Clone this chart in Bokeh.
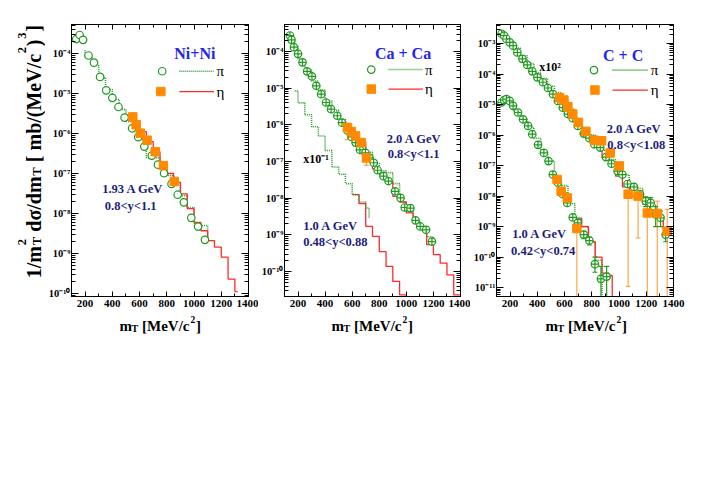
import math
from bokeh.plotting import figure
from bokeh.models import (Range1d, FixedTicker, CustomJSTickFormatter, LinearAxis,
                          LogAxis, Label, Spacer)
from bokeh.layouts import row, column
from bokeh.embed import file_html
from bokeh.resources import INLINE

# ------------------------------------------------------------------ data
x_ticks = [200, 400, 600, 800, 1000, 1200, 1400]
x_minor_ticks = [100, 300, 500, 700, 900, 1100, 1300]

# ---- Ni+Ni, 1.93 A GeV, 0.8<y<1.1
ni_pi_mt = [135, 160, 185, 225, 265, 310, 355, 400, 445, 490, 545, 590, 635, 690,
            735, 780, 835, 880, 925, 980, 1030, 1080]
ni_pi_val = [2.3e-4, 2.9e-4, 2.2e-4, 8.9e-5, 5.9e-5, 2.6e-5, 1.2e-5, 7.8e-6, 4.6e-6,
             2.5e-6, 1.35e-6, 8.1e-7, 4.7e-7, 2.8e-7, 1.66e-7, 1.02e-7, 5.5e-8, 2.95e-8,
             1.9e-8, 7.8e-9, 4.7e-9, 2.2e-9]
ni_eta_mt = [550, 575, 605, 655, 715, 775, 855]
ni_eta_val = [2.6e-6, 1.66e-6, 1.02e-6, 6.8e-7, 3.5e-7, 1.58e-7, 6.3e-8]
ni_pi_model_edges = [200, 250, 300, 350, 400, 450, 500, 550, 600, 650, 700, 750, 800,
                     850, 900, 950, 1000, 1050, 1100]
ni_pi_model_val = [7.9e-5, 5.0e-5, 2.5e-5, 1.26e-5, 7.1e-6, 4.0e-6, 2.0e-6, 1.12e-6,
                   7.1e-7, 2.5e-7, 2.5e-7, 1.58e-7, 8.9e-8, 5.6e-8, 2.8e-8, 1.41e-8,
                   5.6e-9, 5.0e-9]
ni_pi_model_start, ni_pi_model_end = 1.2e-4, 2.2e-9
ni_eta_model_edges = [600, 650, 700, 750, 800, 850, 900, 950, 1000, 1050, 1100, 1150,
                      1200, 1250, 1300, 1320]
ni_eta_model_val = [1.12e-6, 6.3e-7, 3.5e-7, 1.78e-7, 1.0e-7, 6.0e-8, 3.1e-8, 1.32e-8,
                    6.0e-9, 3.7e-9, 2.1e-9, 1.45e-9, 8.1e-10, 2.3e-10, 1.12e-10]

# ---- Ca+Ca, 2.0 A GeV (0.8<y<1.1) and 1.0 A GeV x10^-1 (0.48<y<0.88)
ca_pi_mt = [140, 152, 170, 200, 233, 267, 303, 335, 371, 407, 444, 490, 525, 565, 596,
            625, 657, 698, 728, 759, 788, 831, 868, 916, 957, 988, 1030, 1068, 1102,
            1146, 1189]
ca_pi_val = [2.75e-4, 2.1e-4, 1.32e-4, 8.7e-5, 5.1e-5, 2.9e-5, 2.1e-5, 1.17e-5, 6.9e-6,
             4.1e-6, 2.7e-6, 1.78e-6, 1.15e-6, 7.1e-7, 4.7e-7, 3.3e-7, 2.1e-7, 1.74e-7,
             1.26e-7, 9.3e-8, 5.8e-8, 4.0e-8, 2.95e-8, 1.55e-8, 1.02e-8, 5.6e-9, 5.4e-9,
             2.5e-9, 1.7e-9, 1.38e-9, 6.6e-10]
ca_eta_mt = [565, 594, 625, 666, 705]
ca_eta_val = [8.5e-7, 6.6e-7, 5.0e-7, 3.3e-7, 1.26e-7]
ca_eta_lo = [4.0e-7, 5.0e-7, 3.9e-7, 2.6e-7, 7.9e-8]
ca_eta_hi = [1.1e-6, 8.5e-7, 6.3e-7, 4.2e-7, 1.78e-7]
ca_pi_model_edges = [150, 200, 250, 300, 350, 400, 450, 500, 550, 600, 650, 700, 750,
                     800, 850, 900, 950, 1000, 1050, 1100, 1150, 1200]
ca_pi_model_val = [1.41e-4, 6.3e-5, 3.2e-5, 1.58e-5, 8.9e-6, 4.5e-6, 2.5e-6, 1.41e-6,
                   7.1e-7, 4.0e-7, 2.8e-7, 1.78e-7, 8.9e-8, 5.6e-8, 5.0e-8, 2.5e-8,
                   7.9e-9, 4.5e-9, 2.5e-9, 1.41e-9, 8.9e-10]
ca_pi_model_start, ca_pi_model_end = 2.5e-4, 5.0e-10
ca_eta_model_edges = [550, 600, 650, 700, 750, 800, 850, 900, 950, 1000, 1050, 1100,
                      1150, 1200, 1250, 1300, 1350, 1400]
ca_eta_model_val = [7.1e-7, 5.0e-7, 3.5e-7, 1.26e-7, 6.3e-8, 4.5e-8, 2.8e-8, 1.12e-8,
                    7.9e-9, 4.0e-9, 2.2e-9, 1.41e-9, 5.4e-10, 2.9e-10, 1.7e-10, 8.1e-11,
                    2.3e-11]
ca1_pi_model_edges = [175, 200, 250, 300, 350, 400, 450, 500, 550, 600, 650, 700, 725]
ca1_pi_model_val = [8.5e-6, 4.0e-6, 1.9e-6, 8.9e-7, 5.0e-7, 2.0e-7, 7.1e-8, 4.5e-8,
                    2.5e-8, 1.26e-8, 7.9e-9, 5.4e-9]
ca1_pi_model_end = 2.9e-9
ca1_eta_model_edges = [600, 650, 700, 750, 800, 850, 900, 950, 1000]
ca1_eta_model_val = [1.26e-8, 7.1e-9, 1.7e-9, 9.1e-10, 3.5e-10, 1.38e-10, 5.4e-11, 2.3e-11]
ca1_eta_model_end = 1e-13

# ---- C+C, 2.0 A GeV x10^2 (0.8<y<1.08) and 1.0 A GeV (0.42<y<0.74)
c2_pi_mt = [137, 156, 173, 197, 222, 253, 290, 326, 363, 400, 441, 478, 515, 551, 587,
            624, 660, 697, 741, 782, 818, 862, 904, 945, 989, 1025, 1062, 1110, 1154,
            1196, 1232, 1269, 1305, 1342]
c2_pi_val = [2.1e-3, 1.82e-3, 1.41e-3, 1.1e-3, 8.5e-4, 5.1e-4, 3.16e-4, 2.0e-4, 1.23e-4,
             7.8e-5, 5.4e-5, 3.5e-5, 2.2e-5, 1.32e-5, 7.9e-6, 4.9e-6, 3.6e-6, 2.0e-6,
             1.12e-6, 7.9e-7, 5.0e-7, 3.9e-7, 1.9e-7, 1.15e-7, 6.6e-8, 5.1e-8, 2.5e-8,
             2.0e-8, 1.15e-8, 6.9e-9, 6.0e-9, 2.5e-9, 1.95e-9, 5.5e-10]
c2_pi_err_mt = [1154, 1196, 1232, 1269, 1305, 1342]
c2_pi_err_lo = [8.0e-9, 4.5e-9, 3.5e-9, 1.0e-9, 1.0e-9, 3.2e-10]
c2_pi_err_hi = [1.5e-8, 9.5e-9, 9.0e-9, 4.5e-9, 3.2e-9, 8.9e-10]
c2_eta_mt = [562, 595, 624, 660, 701, 757, 818, 872, 935, 1001, 1067, 1140, 1208, 1281, 1354]
c2_eta_val = [1.7e-5, 1.41e-5, 8.5e-6, 4.9e-6, 2.6e-6, 1.32e-6, 6.8e-7, 6.5e-7, 2.6e-7,
              9.8e-8, 1.15e-8, 1.0e-8, 2.8e-9, 2.7e-9, 7.1e-10]
c2_eta_lo = [1.4e-5, 1.15e-5, 7.0e-6, 4.0e-6, 2.1e-6, 1.05e-6, 5.4e-7, 5.0e-7, 2.0e-7,
             7.4e-8, 1.1e-11, 4.3e-10, 1e-13, 1e-13, 1e-13]
c2_eta_hi = [2.0e-5, 1.7e-5, 1.0e-5, 5.9e-6, 3.2e-6, 1.6e-6, 8.3e-7, 8.0e-7, 3.2e-7,
             1.25e-7, 3.2e-8, 1.8e-8, 6.9e-9, 6.9e-9, 3.7e-9]
c2_pi_model_edges = [125, 175, 225, 275, 325, 375, 425, 475, 525, 575, 625, 675, 725,
                     775, 825, 875, 925, 975, 1025, 1075, 1125, 1175, 1225, 1275, 1325]
c2_pi_model_val = [2.0e-3, 1.26e-3, 7.1e-4, 4.0e-4, 2.2e-4, 1.12e-4, 7.1e-5, 4.0e-5,
                   2.5e-5, 1.41e-5, 7.1e-6, 3.5e-6, 1.78e-6, 1.0e-6, 5.0e-7, 3.2e-7,
                   1.58e-7, 8.9e-8, 5.0e-8, 2.5e-8, 1.78e-8, 7.9e-9, 5.0e-9, 2.5e-9]
c2_pi_model_end = 1.26e-9
c2_eta_model_edges = [575, 625, 675, 725, 775, 825, 875, 925, 975, 1025, 1075, 1125,
                      1175, 1225, 1275, 1325, 1375]
c2_eta_model_val = [1.26e-5, 5.0e-6, 2.5e-6, 1.41e-6, 7.1e-7, 4.0e-7, 1.78e-7, 1.12e-7,
                    4.5e-8, 2.0e-8, 1.0e-8, 1.0e-8, 5.4e-9, 3.5e-9, 2.0e-9, 7.9e-10]

c1_pi_mt = [137, 156, 173, 197, 222, 258, 295, 332, 363, 405, 448, 482, 514, 551, 587,
            619, 660, 697, 741, 782, 823, 867, 909]
c1_pi_val = [1.17e-5, 1.41e-5, 1.51e-5, 1.32e-5, 9.1e-6, 5.5e-6, 3.3e-6, 2.0e-6, 1.07e-6,
             4.8e-7, 2.6e-7, 1.41e-7, 5.1e-8, 2.75e-8, 1.15e-8, 6.0e-9, 2.0e-9, 1.32e-9,
             5.5e-10, 3.5e-10, 5.9e-11, 1.95e-11, 2.3e-11]
c1_pi_err_mt = [741, 782, 823, 867, 909]
c1_pi_err_lo = [4.0e-10, 2.5e-10, 3.2e-11, 1e-13, 1e-13]
c1_pi_err_hi = [7.0e-10, 4.5e-10, 1.0e-10, 5.0e-11, 5.0e-11]
c1_eta_mt = [545, 575, 620, 690]
c1_eta_val = [3.5e-8, 1.45e-8, 8.7e-9, 8.7e-10]
c1_eta_lo = [2.8e-8, 1.1e-8, 6.5e-9, 1e-13]
c1_eta_hi = [4.4e-8, 1.9e-8, 1.15e-8, 1.5e-9]
c1_pi_model_edges = [125, 175, 225, 275, 325, 375, 425, 475, 525, 575, 625, 675, 725,
                     775, 825, 875]
c1_pi_model_val = [1.41e-5, 1.12e-5, 6.3e-6, 3.5e-6, 1.78e-6, 7.9e-7, 2.8e-7, 1.41e-7,
                   4.0e-8, 2.2e-8, 5.6e-9, 2.0e-9, 1.0e-9, 3.2e-10, 7.9e-11]
c1_pi_model_end = 1e-13
c1_eta_model_edges = [675, 725, 775, 825, 875, 925, 950]
c1_eta_model_val = [1.78e-9, 1.0e-9, 3.2e-10, 1.0e-10, 3.0e-11, 2.5e-11]
c1_eta_model_end = 1e-13

# ------------------------------------------------------------------ style
FONT = "Liberation Serif"
GREEN_M = "#1f9a1f"
GREEN_L = "#2f9f2f"
RED = "#ff2b2b"
ORANGE = "#ff8a00"
ORANGE_ERR = "#ffa850"
BLUE = "#2424ee"
NAVY = "#1c1c7e"
TOP = 24          # border above frames
FH = 272          # frame height
BOT = 16          # border below frames (tick labels)
PH = TOP + FH + BOT
XH = 28           # height of the strip holding the x-axis titles
WY = 45           # width of the strip holding the y-axis title

PANELS = [
    dict(fw=179, left=24, right=10, ylo=-10.075, yhi=-3.275, dec=list(range(-10, -3))),
    dict(fw=179, left=23, right=10, ylo=-10.68, yhi=-3.26, dec=list(range(-10, -3))),
    dict(fw=178, left=25, right=14, ylo=-11.29, yhi=-2.375, dec=list(range(-11, -2))),
]

SUP_JS = """
const sup = {"-": "\u207b", "0": "\u2070", "1": "\u00b9", "2": "\u00b2", "3": "\u00b3",
             "4": "\u2074", "5": "\u2075", "6": "\u2076", "7": "\u2077", "8": "\u2078",
             "9": "\u2079"};
const e = Math.round(Math.log10(tick));
let s = "";
for (const c of String(e)) { s += sup[c]; }
return "10" + s;
"""


def style_axis(ax, major_in, minor_in, labels=True, size="10.5px"):
    ax.axis_line_color = "black"
    ax.axis_line_width = 1
    ax.major_tick_in = major_in
    ax.major_tick_out = 0
    ax.minor_tick_in = minor_in
    ax.minor_tick_out = 0
    ax.major_tick_line_color = "black"
    ax.minor_tick_line_color = "black"
    ax.major_label_text_font = FONT
    ax.major_label_text_font_style = "bold"
    ax.major_label_text_font_size = size
    ax.major_label_text_color = "black"
    ax.major_label_standoff = 1 if labels else 0
    if not labels:
        ax.formatter = CustomJSTickFormatter(code="return '';")


def make_panel(cfg):
    p = figure(width=cfg["left"] + cfg["fw"] + cfg["right"], height=PH,
               x_range=Range1d(100, 1400),
               y_range=Range1d(10 ** cfg["ylo"], 10 ** cfg["yhi"]),
               y_axis_type="log", output_backend="svg", toolbar_location=None,
               min_border_left=cfg["left"], min_border_right=cfg["right"],
               min_border_top=TOP, min_border_bottom=BOT)
    p.grid.visible = False
    p.outline_line_color = "black"
    p.outline_line_width = 1
    p.background_fill_color = "white"
    p.border_fill_color = "white"
    lo_e = math.floor(cfg["ylo"])
    hi_e = math.ceil(cfg["yhi"])
    minors = [k * 10.0 ** e for e in range(lo_e, hi_e) for k in range(2, 10)]
    xt = FixedTicker(ticks=x_ticks, minor_ticks=x_minor_ticks)
    yt = FixedTicker(ticks=[10.0 ** e for e in cfg["dec"]], minor_ticks=minors)
    p.xaxis.ticker = xt
    p.yaxis.ticker = yt
    for ax in p.xaxis:
        style_axis(ax, 5, 3, size="11px")
        ax.major_label_standoff = 3
    for ax in p.yaxis:
        style_axis(ax, 7, 4)
        ax.formatter = CustomJSTickFormatter(code=SUP_JS)
    top = LinearAxis(ticker=xt)
    style_axis(top, 5, 3, labels=False)
    right = LogAxis(ticker=yt)
    style_axis(right, 7, 4, labels=False)
    p.add_layout(top, "above")
    p.add_layout(right, "right")
    return p


def strip(width, height):
    s = figure(width=width, height=height, x_range=Range1d(0, width),
               y_range=Range1d(0, height), output_backend="svg", toolbar_location=None,
               min_border_left=0, min_border_right=0, min_border_top=0,
               min_border_bottom=0, x_axis_location=None, y_axis_location=None)
    s.outline_line_color = None
    s.grid.visible = False
    s.background_fill_color = "white"
    s.border_fill_color = "white"
    return s


def text(p, x, y, t, size, color="black", style="bold", baseline="alphabetic",
         angle=0, xo=0, yo=0, align="left"):
    p.add_layout(Label(x=x, y=y, text=t, text_font=FONT, text_font_size=f"{size}px",
                       text_font_style=style, text_color=color, text_align=align,
                       text_baseline=baseline, angle=angle, x_offset=xo, y_offset=yo))


def hist(p, edges, vals, color, dash, start=None, end=None, width=1.3):
    xs = list(edges)
    ys = list(vals) + [vals[-1] if end is None else end]
    if start is not None:
        xs = [edges[0]] + xs
        ys = [start] + ys
    p.step(xs, ys, mode="after", line_color=color, line_width=width, line_dash=dash)


def errbars(p, xs, lo, hi, color, width=1.2):
    p.segment(x0=xs, y0=lo, x1=xs, y1=hi, line_color=color, line_width=width)
    p.scatter(xs, lo, marker="dash", size=5, line_color=color, line_width=width)
    p.scatter(xs, hi, marker="dash", size=5, line_color=color, line_width=width)


def pions(p, xs, ys, marker):
    p.scatter(xs, ys, marker=marker, size=7.5, line_color=GREEN_M, fill_color="white",
              line_width=1.2)


def etas(p, xs, ys):
    p.scatter(xs, ys, marker="square", size=8.5, line_color=ORANGE, fill_color=ORANGE)


def legend(p, cx, cy, sx, sy, lx0, lx1, tx):
    p.scatter([cx], [cy], marker="circle", size=7.5, line_color=GREEN_M,
              fill_color="white", line_width=1.2)
    p.line([lx0, lx1], [cy, cy], line_color=GREEN_L, line_width=1.6, line_dash="1 1")
    text(p, tx, cy, "\u03c0", 15, style="normal", baseline="middle")
    p.scatter([sx], [sy], marker="square", size=8.5, line_color=ORANGE, fill_color=ORANGE)
    p.line([lx0, lx1], [sy, sy], line_color=RED, line_width=1.3)
    text(p, tx, sy, "\u03b7", 15, style="normal", baseline="middle")


def xtitle(cfg):
    s = strip(cfg["left"] + cfg["fw"] + cfg["right"], XH)
    x, y = cfg["left"] + 50, XH - 13
    for t, xo, yo, sz in [("m", 0, 0, 15), ("T", 12, -3, 10), ("[MeV/c", 22.5, 0, 15),
                          ("2", 71, 6, 9.5), ("]", 76.5, 0, 15)]:
        text(s, x, y, t, sz, xo=xo, yo=yo)
    return s


ps = [make_panel(c) for c in PANELS]
p1, p2, p3 = ps

# ---------------- panel 1 : Ni+Ni
hist(p1, ni_pi_model_edges, ni_pi_model_val, GREEN_L, "1 1", ni_pi_model_start,
     ni_pi_model_end, width=1.6)
hist(p1, ni_eta_model_edges, ni_eta_model_val, RED, "solid")
pions(p1, ni_pi_mt, ni_pi_val, "circle")
etas(p1, ni_eta_mt, ni_eta_val)
text(p1, 855, 1.0e-4, "Ni+Ni", 16, BLUE)
legend(p1, 766, 3.6e-5, 756, 1.12e-5, 892, 1146, 1165)
text(p1, 325, 4.17e-8, "1.93 A GeV", 12.5, NAVY)
text(p1, 345, 1.58e-8, "0.8<y<1.1", 12.5, NAVY)

# ---------------- panel 2 : Ca+Ca
hist(p2, ca_pi_model_edges, ca_pi_model_val, GREEN_L, "1 1", ca_pi_model_start,
     ca_pi_model_end, width=1.6)
hist(p2, ca_eta_model_edges, ca_eta_model_val, RED, "solid")
hist(p2, ca1_eta_model_edges, ca1_eta_model_val, RED, "solid", end=ca1_eta_model_end)
hist(p2, ca1_pi_model_edges, ca1_pi_model_val, GREEN_L, "1 1", end=ca1_pi_model_end,
     width=1.6)
errbars(p2, ca_eta_mt, ca_eta_lo, ca_eta_hi, ORANGE_ERR)
pions(p2, ca_pi_mt, ca_pi_val, "circle_cross")
etas(p2, ca_eta_mt, ca_eta_val)
text(p2, 768, 8.9e-5, "Ca + Ca", 16, BLUE)
legend(p2, 741, 3.24e-5, 741, 9.5e-6, 868, 1122, 1138)
text(p2, 855, 4.17e-7, "2.0 A GeV", 12.5, NAVY)
text(p2, 862, 1.62e-7, "0.8<y<1.1", 12.5, NAVY)
text(p2, 238, 1.17e-7, "x10\u207b\u00b9", 12)
text(p2, 238, 1.7e-9, "1.0 A GeV", 12.5, NAVY)
text(p2, 238, 6.6e-10, "0.48<y<0.88", 12.5, NAVY)

# ---------------- panel 3 : C+C
hist(p3, c2_pi_model_edges, c2_pi_model_val, GREEN_L, "1 1", end=c2_pi_model_end,
     width=1.6)
hist(p3, c2_eta_model_edges, c2_eta_model_val, RED, "solid")
hist(p3, c1_pi_model_edges, c1_pi_model_val, GREEN_L, "1 1", end=c1_pi_model_end,
     width=1.6)
hist(p3, c1_eta_model_edges, c1_eta_model_val, RED, "solid", end=c1_eta_model_end)
errbars(p3, c2_eta_mt, c2_eta_lo, c2_eta_hi, ORANGE_ERR)
errbars(p3, c1_eta_mt, c1_eta_lo, c1_eta_hi, ORANGE_ERR)
errbars(p3, c2_pi_err_mt, c2_pi_err_lo, c2_pi_err_hi, GREEN_M)
errbars(p3, c1_pi_err_mt, c1_pi_err_lo, c1_pi_err_hi, GREEN_M)
pions(p3, c2_pi_mt, c2_pi_val, "circle_cross")
pions(p3, c1_pi_mt, c1_pi_val, "circle_cross")
etas(p3, c2_eta_mt, c2_eta_val)
etas(p3, c1_eta_mt, c1_eta_val)
text(p3, 882, 4.07e-4, "C + C", 16, BLUE)
legend(p3, 816, 1.35e-4, 823, 3.0e-5, 952, 1212, 1232)
text(p3, 414, 1.66e-4, "x10\u00b2", 12)
text(p3, 909, 1.58e-6, "2.0 A GeV", 12.5, NAVY)
text(p3, 914, 4.8e-7, "0.8<y<1.08", 12.5, NAVY)
text(p3, 215, 5.75e-10, "1.0 A GeV", 12.5, NAVY)
text(p3, 207, 1.62e-10, "0.42<y<0.74", 12.5, NAVY)

# ---------------- axis titles
ytitle = strip(WY, PH)
ya_x, ya_y = 33, PH - 291
for t, xo, yo, sz in [("1/m", 0, 0, 20), ("T", 3, 33, 12.5), ("2", -12, 33, 12.5),
                      ("d\u03c3/dm", 0, 46.5, 20), ("T", 3, 102.5, 12.5),
                      ("[ mb/(MeV/c", 0, 116, 20), ("2", -12, 225, 12.5),
                      (")", 0, 232, 20), ("3", -12, 239.5, 12.5), ("]", 0, 246.5, 20)]:
    text(ytitle, ya_x, ya_y, t, sz, angle=math.pi / 2, xo=xo, yo=yo)

xt1, xt2, xt3 = [xtitle(c) for c in PANELS]

layout = column(
    row(ytitle, p1, p2, p3, spacing=0),
    row(Spacer(width=WY, height=XH), xt1, xt2, xt3, spacing=0),
    spacing=0,
)
open("out.html", "w", encoding="utf-8").write(file_html(layout, INLINE))
